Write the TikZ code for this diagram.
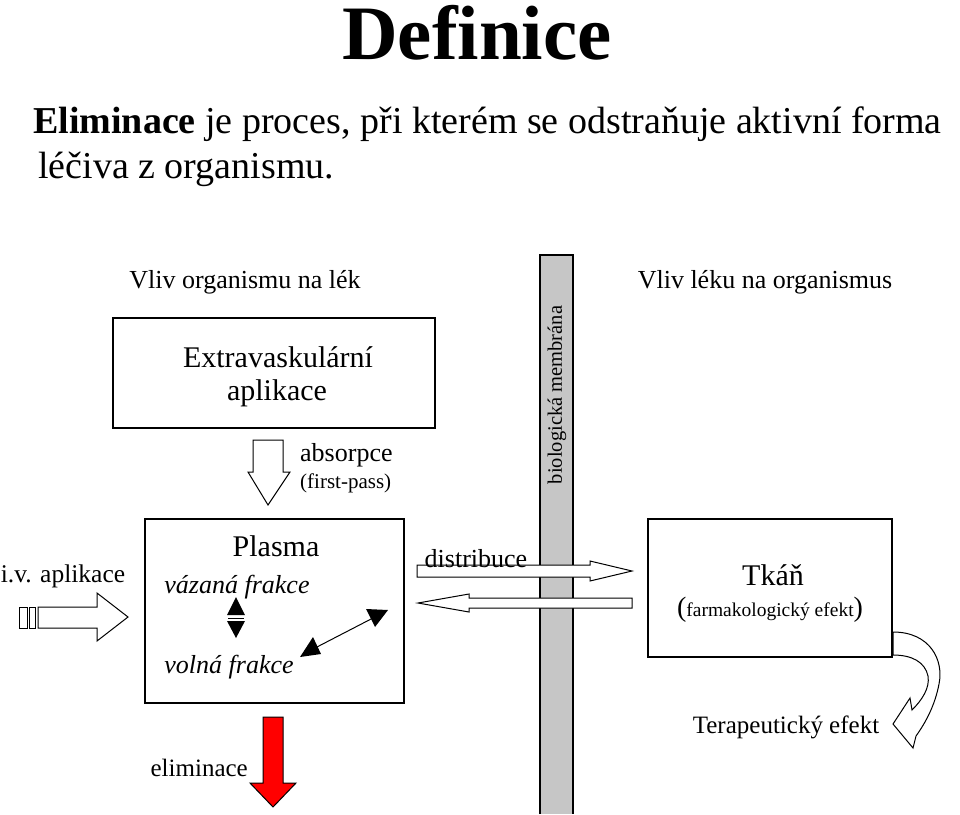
\documentclass[tikz,border=0pt]{standalone}
\usepackage{fontspec}
\setmainfont{Liberation Serif}
\begin{document}
\begin{tikzpicture}[x=1pt,y=-1pt,
  box/.style={draw,line width=1.6pt},
  lab/.style={font=\fontsize{25}{27}\selectfont,inner sep=0pt},
  hollow/.style={draw,line width=1pt,fill=white}]
\useasboundingbox (0,0) rectangle (960,814);
\node[font=\bfseries\fontsize{77}{77}\selectfont,inner sep=0pt] (title) at (477,33) {Definice};
\node[anchor=base west,font=\fontsize{38}{40}\selectfont,inner sep=0pt] (p1) at (33,133) {\textbf{Eliminace} je proces, při kterém se odstraňuje aktivní forma};
\node[anchor=base west,font=\fontsize{38}{40}\selectfont,inner sep=0pt] (p2) at (38,178) {léčiva z organismu.};
\node[lab,font=\fontsize{26}{28}\selectfont] (h1) at (245,282) {Vliv organismu na lék};
\node[lab,font=\fontsize{26}{28}\selectfont] (h2) at (765,282) {Vliv léku na organismus};
% membrane
\fill[gray!45] (540,255) rectangle (573,814);
\draw[line width=1.2pt] (540,814) -- (540,255) -- (573,255) -- (573,814);
\node[lab,rotate=90,font=\fontsize{20.5}{22}\selectfont] (mem) at (557,395) {biologická membrána};
% boxes
\draw[box] (113,318) rectangle (435,428);
\node[lab,font=\fontsize{30}{32}\selectfont] (ev1) at (278,357) {Extravaskulární};
\node[lab,font=\fontsize{30}{32}\selectfont] (ev2) at (277,393) {aplikace};
\draw[box] (145,519) rectangle (404,703);
\node[lab,font=\fontsize{30}{32}\selectfont] (pl) at (276,546) {Plasma};
\node[lab,font=\itshape\fontsize{26}{28}\selectfont] (vaz) at (237,587) {vázaná frakce};
\node[lab,font=\itshape\fontsize{26}{28}\selectfont] (vol) at (229,667) {volná frakce};
\draw[box] (648,519) rectangle (892,657);
\node[lab,font=\fontsize{30}{32}\selectfont] (tk) at (773,575) {Tkáň};
\node[lab,font=\fontsize{19.5}{22}\selectfont] (fe) at (770,610) {{\fontsize{28}{30}\selectfont(}farmakologický efekt{\fontsize{28}{30}\selectfont)}};
% absorpce arrow
\draw[hollow] (253,440) -- (283,440) -- (283,472) -- (290,472) -- (268,505) -- (248,472) -- (253,472) -- cycle;
\node[lab,anchor=west,font=\fontsize{26}{28}\selectfont] (abs) at (300,455) {absorpce};
\node[lab,anchor=west,font=\fontsize{21}{22}\selectfont] (fp) at (300,483) {(first-pass)};
% i.v. arrow
\node[lab,font=\fontsize{25.5}{27}\selectfont] (iv) at (63,576) {i.v. aplikace};
\draw[line width=1pt] (19,607) rectangle (27,628) (29,607) rectangle (35,628);
\draw[hollow] (38,607) -- (97,607) -- (97,593) -- (128,617) -- (97,641) -- (97,628) -- (38,628) -- cycle;
% elimination
\draw[line width=1pt,fill=red] (263,717) -- (283,717) -- (283,783) -- (296,783) -- (273,807) -- (250,783) -- (263,783) -- cycle;
\node[lab,anchor=east] (el) at (248,768) {eliminace};
% plasma internal arrows
\draw[line width=1pt] (228,618) -- (244,618);
\fill (236,597) -- (245,615) -- (227,615) -- cycle;
\fill (236,638) -- (245,621) -- (227,621) -- cycle;
\draw[line width=1pt] (315,648) -- (373,618);
\fill (300,657) -- (313,637) -- (321,654) -- cycle;
\fill (388,610) -- (366,609) -- (375,627) -- cycle;
% distribution
\draw[hollow] (417,565) -- (590,565) -- (590,561) -- (632,571) -- (590,581) -- (590,577) -- (417,577) -- cycle;
\draw[hollow] (632,598) -- (469,598) -- (469,594) -- (418,603) -- (469,612) -- (469,608) -- (632,608) -- cycle;
\node[lab,anchor=base,font=\fontsize{26}{28}\selectfont] (dis) at (476,567) {distribuce};
% curved arrow
\draw[hollow] (893,632) .. controls (930,632) and (944,660) .. (939,684)
  .. controls (935,705) and (926,722) .. (916,736) -- (913,748) -- (893,724) -- (910,698) -- (912,710)
  .. controls (922,700) and (930,688) .. (928,676) .. controls (925,662) and (912,655) .. (893,655) -- cycle;
\node[lab] (te) at (786,727) {Terapeutický efekt};
\end{tikzpicture}
\end{document}
